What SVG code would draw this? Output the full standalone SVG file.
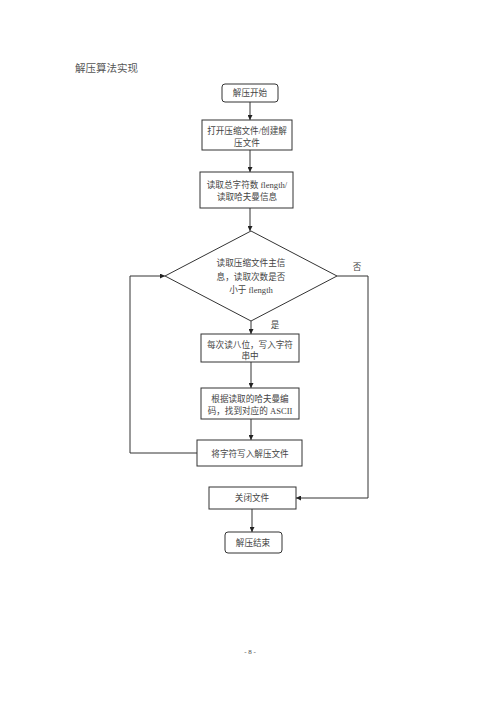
<svg xmlns="http://www.w3.org/2000/svg" width="500" height="707" viewBox="0 0 500 707">
<style>
.bg{fill:#fff}
.box{fill:#fff;stroke:#333;stroke-width:1}
.ln{fill:none;stroke:#333;stroke-width:1}
text{font-family:"Liberation Serif","Noto Sans CJK SC",serif;font-size:8.6px;fill:#444;text-anchor:middle}
.title{font-size:10.5px;text-anchor:start;fill:#555}
.pg{font-size:7px}
</style>
<defs>
<marker id="ah" viewBox="0 0 8 8" refX="8" refY="4" markerWidth="5" markerHeight="5" orient="auto">
<path d="M0,0 L8,4 L0,8 z" fill="#222"/>
</marker>
</defs>
<rect class="bg" x="0" y="0" width="500" height="707"/>
<text class="title" x="75" y="72">解压算法实现</text>
<g id="connectors">
<line class="ln" x1="250" y1="102" x2="250" y2="120" marker-end="url(#ah)"/>
<line class="ln" x1="250" y1="150" x2="250" y2="172" marker-end="url(#ah)"/>
<line class="ln" x1="250" y1="208" x2="250" y2="231" marker-end="url(#ah)"/>
<line class="ln" x1="251" y1="321" x2="251" y2="334" marker-end="url(#ah)"/>
<line class="ln" x1="251" y1="362" x2="251" y2="388" marker-end="url(#ah)"/>
<line class="ln" x1="251" y1="419" x2="251" y2="440" marker-end="url(#ah)"/>
<polyline class="ln" points="197,453 130,453 130,276 165,276" marker-end="url(#ah)"/>
<polyline class="ln" points="337,276 368,276 368,498 296,498" marker-end="url(#ah)"/>
<line class="ln" x1="252" y1="509" x2="252" y2="532" marker-end="url(#ah)"/>
<text x="357" y="270">否</text>
<text x="275" y="328">是</text>
</g>
<g id="start">
<rect class="box" x="222" y="84" width="56" height="18" rx="3"/>
<text x="250" y="96">解压开始</text>
</g>
<g id="open">
<rect class="box" x="202" y="120" width="90" height="30"/>
<text x="247" y="134">打开压缩文件/创建解</text>
<text x="247" y="146">压文件</text>
</g>
<g id="read">
<rect class="box" x="200" y="172" width="93" height="36"/>
<text x="247" y="188">读取总字符数 flength/</text>
<text x="247" y="200">读取哈夫曼信息</text>
</g>
<g id="decision">
<polygon class="box" points="251,231 337,276 251,321 165,276"/>
<text x="251" y="266">读取压缩文件主信</text>
<text x="251" y="280">息，读取次数是否</text>
<text x="251" y="293">小于 flength</text>
</g>
<g id="read8">
<rect class="box" x="201" y="334" width="98" height="28"/>
<text x="250" y="348">每次读八位，写入字符</text>
<text x="250" y="359">串中</text>
</g>
<g id="decode">
<rect class="box" x="201" y="388" width="98" height="31"/>
<text x="250" y="402">根据读取的哈夫曼编</text>
<text x="250" y="414">码，找到对应的 ASCII</text>
</g>
<g id="write">
<rect class="box" x="197" y="440" width="105" height="26"/>
<text x="250" y="457">将字符写入解压文件</text>
</g>
<g id="close">
<rect class="box" x="209" y="487" width="87" height="22"/>
<text x="252" y="501">关闭文件</text>
</g>
<g id="end">
<rect class="box" x="225" y="532" width="57" height="21" rx="3"/>
<text x="253" y="546">解压结束</text>
</g>
<text class="pg" x="250" y="654">- 8 -</text>
</svg>
